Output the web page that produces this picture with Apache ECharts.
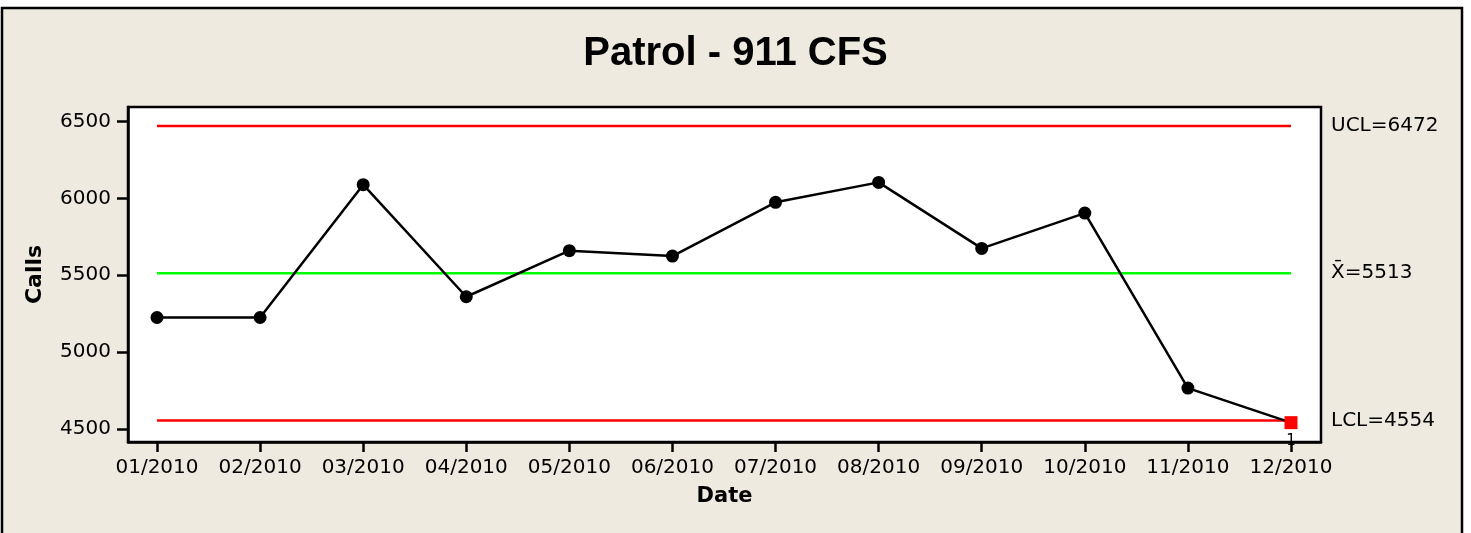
<!DOCTYPE html>
<html>
<head>
<meta charset="utf-8">
<script src="https://cdn.jsdelivr.net/npm/echarts@6.0.0/dist/echarts.min.js"></script>
<style>
  html, body { margin: 0; padding: 0; background: #fff; }
  #chart { width: 1471px; height: 533px; }
</style>
</head>
<body>
<div id="chart"></div>
<script>
  // values
  const months = ['01/2010', '02/2010', '03/2010', '04/2010', '05/2010', '06/2010',
                  '07/2010', '08/2010', '09/2010', '10/2010', '11/2010', '12/2010'];
  const calls = [5225, 5225, 6090, 5360, 5660, 5625, 5975, 6105, 5675, 5905, 4765, 4540];
  const ucl = 6472;
  const center = 5513;
  const lcl = 4554;
  const yTicks = [4500, 5000, 5500, 6000, 6500];
  const xTicks = months.map((m, i) => i);

  const font = 'DejaVu Sans';
  const last = months.length - 1;

  const pointData = calls.map((v, i) => {
    if (v < lcl || v > ucl) {
      // out of control point -> red square with test number
      return {
        value: [i, v],
        symbol: 'rect',
        symbolSize: 13,
        itemStyle: { color: '#ff0000' },
        label: {
          show: true, formatter: '1', position: 'bottom', distance: 4,
          fontSize: 15, fontFamily: font, color: '#000'
        }
      };
    }
    return [i, v];
  });

  const limitLine = (val, color, text) => ({
    type: 'line',
    silent: true,
    symbol: 'none',
    z: 1,
    data: [[0, val], [last, val]],
    lineStyle: { color: color, width: 2.5 },
    endLabel: {
      show: true, formatter: text, distance: 40,
      fontSize: 20, fontFamily: font, color: '#000'
    }
  });

  const chart = echarts.init(document.getElementById('chart'));
  chart.setOption({
    animation: false,
    backgroundColor: '#fff',
    graphic: [{
      type: 'rect',
      z: -10,
      shape: { x: 2, y: 8, width: 1460, height: 540 },
      style: { fill: '#eeeae0', stroke: '#000', lineWidth: 2.5 }
    }],
    title: {
      text: 'Patrol - 911 CFS',
      left: 'center',
      top: 34,
      padding: 0,
      textStyle: { fontFamily: 'Liberation Sans', fontWeight: 'bold', fontSize: 40, color: '#000' }
    },
    grid: {
      left: 128, top: 107, width: 1193, height: 335,
      show: true, backgroundColor: '#fff', borderColor: '#000', borderWidth: 2.5
    },
    xAxis: {
      type: 'value',
      min: -0.2813,
      max: 11.291,
      name: 'Date',
      nameLocation: 'middle',
      nameGap: 44,
      nameTextStyle: { fontFamily: font, fontWeight: 'bold', fontSize: 21, color: '#000' },
      axisLine: { show: true, onZero: false, lineStyle: { color: '#000', width: 2.5 } },
      axisTick: { show: true, customValues: xTicks, length: 10, lineStyle: { color: '#000', width: 2.5 } },
      axisLabel: {
        customValues: xTicks, margin: 16,
        formatter: v => months[v],
        fontFamily: font, fontSize: 20, color: '#000'
      },
      splitLine: { show: false }
    },
    yAxis: {
      type: 'value',
      min: 4414,
      max: 6596,
      name: 'Calls',
      nameLocation: 'middle',
      nameGap: 82,
      nameTextStyle: { fontFamily: font, fontWeight: 'bold', fontSize: 22, color: '#000' },
      axisLine: { show: true, onZero: false, lineStyle: { color: '#000', width: 2.5 } },
      axisTick: { show: true, customValues: yTicks, length: 11, lineStyle: { color: '#000', width: 2.5 } },
      axisLabel: {
        customValues: yTicks, margin: 17,
        formatter: v => String(v),
        fontFamily: font, fontSize: 20, color: '#000'
      },
      splitLine: { show: false }
    },
    series: [
      limitLine(ucl, '#ff0000', 'UCL=' + ucl),
      limitLine(center, '#00ff00', 'X\u0304=' + center),
      limitLine(lcl, '#ff0000', 'LCL=' + lcl),
      {
        type: 'line',
        name: 'Calls',
        z: 3,
        data: pointData,
        symbol: 'circle',
        symbolSize: 13,
        itemStyle: { color: '#000' },
        lineStyle: { color: '#000', width: 2.5 }
      }
    ]
  });
</script>
</body>
</html>
